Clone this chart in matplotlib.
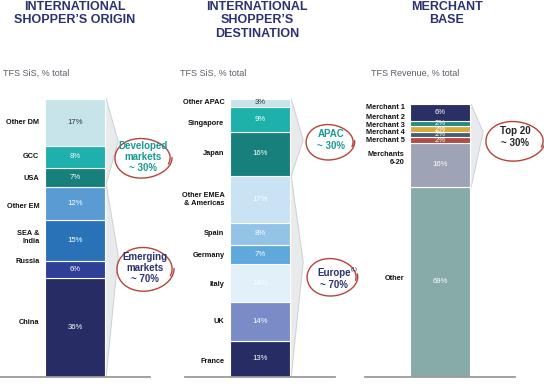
import numpy as np
import matplotlib.pyplot as plt
from matplotlib.patches import Polygon

plt.rcParams['font.family'] = ['Liberation Sans', 'DejaVu Sans']

# ---- data (bottom to top) ----
origin_labels = ['China', 'Russia', 'SEA &\nIndia', 'Other EM', 'USA', 'GCC', 'Other DM']
origin_values = [36, 6, 15, 12, 7, 8, 17]
origin_colors = ['#272c64', '#2e3f96', '#2a72b8', '#5b9bd3', '#17807c', '#1eb0aa', '#c6e4ea']

dest_labels = ['France', 'UK', 'Italy', 'Germany', 'Spain', 'Other EMEA\n& Americas',
               'Japan', 'Singapore', 'Other APAC']
dest_values = [13, 14, 14, 7, 8, 17, 16, 9, 3]
dest_colors = ['#272c64', '#7a8cc8', '#e2f0f9', '#5fa8db', '#93c4e8', '#c9e3f5',
               '#17807c', '#1eb0aa', '#c6e4ea']

merchant_labels = ['Other', 'Merchants\n6-20', 'Merchant 5', 'Merchant 4', 'Merchant 3',
                   'Merchant 2', 'Merchant 1']
merchant_values = [69, 16, 2, 2, 2, 2, 6]
merchant_colors = ['#87aba9', '#9ea3b6', '#b14c42', '#4c5b6c', '#d6aa3a', '#1e8c84', '#2a2f66']

titles = ['INTERNATIONAL\nSHOPPER\u2019S ORIGIN', 'INTERNATIONAL\nSHOPPER\u2019S\nDESTINATION',
          'MERCHANT\nBASE']
subtitles = ['TFS SiS, % total', 'TFS SiS, % total', 'TFS Revenue, % total']

NAVY = '#2b3272'
TEAL = '#1a9a94'
RED = '#b5433d'

W, H = 544, 388
fig = plt.figure(figsize=(W / 100, H / 100), dpi=100)


def px_axes(x0, y0, x1, y1):
    return fig.add_axes([x0 / W, 1 - y1 / H, (x1 - x0) / W, (y1 - y0) / H])


def draw_stack(ax, labels, values, colors, dark_text, label_dy):
    bottoms = np.concatenate([[0], np.cumsum(values)[:-1]])
    ax.bar(0, values, bottom=bottoms, width=1, color=colors,
           edgecolor='white', linewidth=0.8)
    for i, (lab, v, b) in enumerate(zip(labels, values, bottoms)):
        ax.text(0, b + v / 2, f'{v}%', ha='center', va='center', fontsize=5.6,
                color='#333333' if i in dark_text else 'white')
        ax.annotate(lab, (-0.5, b + v / 2), xytext=(-4, label_dy[i]),
                    textcoords='offset points', ha='right', va='center',
                    fontsize=5.3, fontweight='bold', color='#111111',
                    multialignment='right', linespacing=1.25)
    ax.set_xlim(-1.25, 1.25)
    ax.set_ylim(0, 101.5)
    ax.axhline(0, color='#9b9b9b', lw=1.3, clip_on=False)
    ax.axis('off')
    return bottoms


def wedge(ax, top, bottom, apex):
    ax.add_patch(Polygon([(0.52, top), (0.72, apex), (0.52, bottom)],
                         closed=True, facecolor='#e8eaec', edgecolor='none',
                         clip_on=False, zorder=0))
    ax.plot([0.52, 0.72, 0.52], [top, apex, bottom], color='#cdd0d4', lw=0.7,
            clip_on=False, zorder=0)


def scribble(ax, cx, cy, rx, ry, start):
    t = np.linspace(0, 2.12 * np.pi, 240)
    g = 1 + 0.07 * t / (2 * np.pi)
    ang = start - t
    ax.plot(cx + rx * g * np.cos(ang), cy + ry * g * np.sin(ang) - 1.5 * np.sin(ang) * np.cos(ang),
            color=RED, lw=1.0, solid_capstyle='round')


# ---- bars ----
ax1 = px_axes(0, 97.5, 150, 376.5)
draw_stack(ax1, origin_labels, origin_values, origin_colors, dark_text=[6],
           label_dy=[3.5, 5.5, 2, -2.5, -1, 0, 0])
wedge(ax1, 101, 70, 85.6)
wedge(ax1, 70, 0, 44)

ax2 = px_axes(185, 97.5, 335, 376.5)
draw_stack(ax2, dest_labels, dest_values, dest_colors, dark_text=[8],
           label_dy=[-2, 0, -1, -1, 0, 0, 0, -3, 0])
wedge(ax2, 101, 73, 86)
wedge(ax2, 73, 0, 41.6)

ax3 = px_axes(365, 97.5, 515, 376.5)
draw_stack(ax3, merchant_labels, merchant_values, merchant_colors, dark_text=[],
           label_dy=[2, 4.5, 0, 1.5, 2.7, 4.7, 4])
wedge(ax3, 99, 69, 88.9)

# ---- overlay: titles, subtitles, callouts ----
ov = fig.add_axes([0, 0, 1, 1])
ov.set_xlim(0, W)
ov.set_ylim(H, 0)
ov.axis('off')

for x, t in zip([75, 257, 447], titles):
    ov.text(x, 0.5, t, ha='center', va='top', fontsize=9, fontweight='bold',
            color=NAVY, linespacing=1.22)
for x, s in zip([3, 180, 371], subtitles):
    ov.text(x, 73, s, ha='left', va='center', fontsize=6.5, color='#585d66')

callouts = [
    (143, 158, 27, 19, 0.35, 'Developed\nmarkets\n~ 30%', TEAL, 143, 157),
    (145, 269, 27, 21, 0.35, 'Emerging\nmarkets\n~ 70%', NAVY, 145, 268),
    (330, 142, 23, 17, 0.3, 'APAC\n~ 30%', TEAL, 331, 140),
    (332, 277, 24, 18, 0.2, 'Europe\n~ 70%', NAVY, 334, 279),
    (515, 141, 28, 19, 0.35, 'Top 20\n~ 30%', '#222222', 515, 137),
]
for cx, cy, rx, ry, st, txt, col, tx, ty in callouts:
    scribble(ov, cx, cy, rx, ry, st)
    ov.text(tx, ty, txt, ha='center', va='center', fontsize=7, fontweight='bold',
            color=col, linespacing=1.15)
ov.text(351, 270, '(1)', ha='left', va='center', fontsize=4, color=NAVY)

fig.savefig('out.png', dpi=100)
